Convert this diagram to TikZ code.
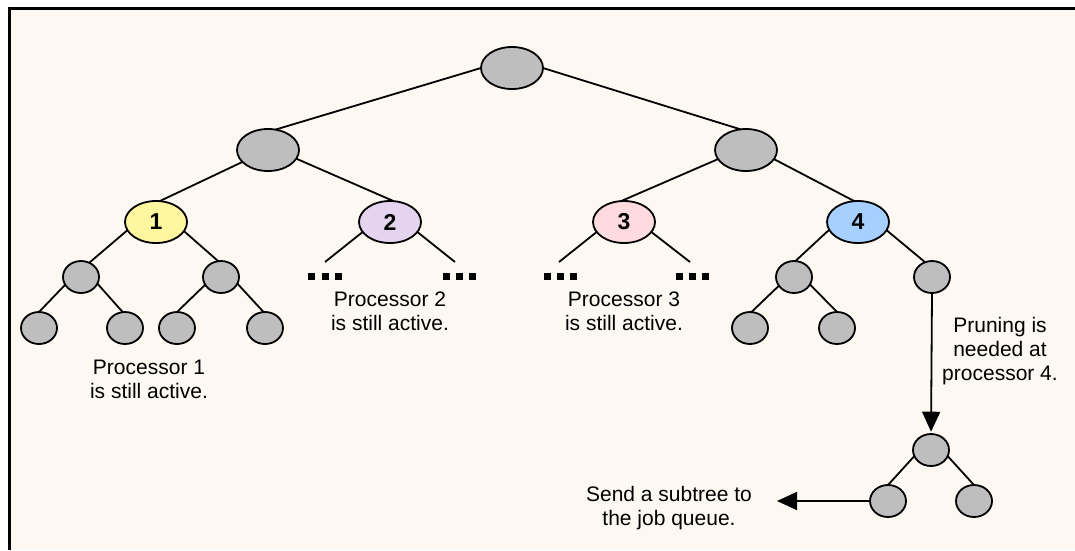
\documentclass[tikz,border=0pt]{standalone}
\usepackage{fontspec}
\setmainfont{Liberation Sans}
\usetikzlibrary{shapes.geometric,arrows.meta}
\definecolor{bgc}{RGB}{253,249,242}
\definecolor{grayfill}{RGB}{190,190,190}
\definecolor{pone}{RGB}{255,247,160}
\definecolor{ptwo}{RGB}{228,212,240}
\definecolor{pthree}{RGB}{255,218,222}
\definecolor{pfour}{RGB}{165,208,255}
\begin{document}
\begin{tikzpicture}[x=1pt,y=-1pt,
  big/.style={ellipse,draw=black,line width=1.8pt,minimum width=62pt,minimum height=42pt,inner sep=0pt,outer sep=0pt,font=\fontsize{23}{23}\selectfont\bfseries},
  small/.style={ellipse,draw=black,line width=1.8pt,fill=grayfill,minimum width=36pt,minimum height=32pt,inner sep=0pt,outer sep=0pt},
  edge/.style={line width=1.8pt},
  arr/.style={line width=1.8pt,-{Triangle[length=20pt,width=18pt]}},
  lbl/.style={align=center,font=\fontsize{21}{24}\selectfont,inner sep=0pt},
  sq/.style={fill=black,minimum size=7pt,inner sep=0pt,outer sep=0pt}
]
\useasboundingbox (0,0) rectangle (1075,550);
\fill[bgc] (9.5,8.5) rectangle (1075,550);
\draw[line width=3pt] (9.5,550) -- (9.5,8.5) -- (1075,8.5);

% upper tree
\node[big,fill=grayfill] (root) at (512,68) {};
\node[big,fill=grayfill] (L) at (268,150) {};
\node[big,fill=grayfill] (R) at (746,150) {};
\node[big,fill=pone] (p1) at (156,222) {1};
\node[big,fill=ptwo] (p2) at (390,222) {2};
\node[big,fill=pthree] (p3) at (624,222) {3};
\node[big,fill=pfour] (p4) at (858,222) {4};

\node[small] (a) at (81,277) {};
\node[small] (b) at (221,277) {};
\node[small] (c1) at (39,328) {};
\node[small] (c2) at (125,328) {};
\node[small] (c3) at (177,328) {};
\node[small] (c4) at (265,328) {};
\node[small] (d) at (794,277) {};
\node[small] (e) at (932,277) {};
\node[small] (f1) at (750,328) {};
\node[small] (f2) at (837,328) {};
\node[small] (g) at (931,450) {};
\node[small] (h1) at (888,501) {};
\node[small] (h2) at (974,501) {};

\coordinate (p2l) at (325,262);
\coordinate (p2r) at (455,262);
\coordinate (p3l) at (559,262);
\coordinate (p3r) at (690,262);
\coordinate (q) at (777,501);

\draw[edge] (root.180) -- (L.70);
\draw[edge] (root.0) -- (R.105);
\draw[edge] (L.205) -- (p1.80);
\draw[edge] (L.343) -- (p2.80);
\draw[edge] (R.198) -- (p3.98);
\draw[edge] (R.342) -- (p4.100);
\draw[edge] (p1.196) -- (a.60);
\draw[edge] (p1.342) -- (b.100);
\draw[edge] (a.206) -- (c1.90);
\draw[edge] (a.338) -- (c2.98);
\draw[edge] (b.206) -- (c3.90);
\draw[edge] (b.338) -- (c4.95);
\draw[edge] (p2.200) -- (p2l);
\draw[edge] (p2.340) -- (p2r);
\draw[edge] (p3.200) -- (p3l);
\draw[edge] (p3.340) -- (p3r);
\draw[edge] (p4.195) -- (d.85);
\draw[edge] (p4.344) -- (e.115);
\draw[edge] (d.210) -- (f1.85);
\draw[edge] (d.335) -- (f2.90);
\draw[edge] (g.200) -- (h1.90);
\draw[edge] (g.340) -- (h2.90);
\draw[arr,shorten >=2.3pt] (e.south) -- (g.north);
\draw[arr] (h1.west) -- (q);

% dots
\foreach \x/\n in {311.5/1,325/2,338.5/3,446/4,459/5,472.5/6,547/7,560/8,573.5/9,679/10,692/11,705.5/12}
  \node[sq] (s\n) at (\x,276.5) {};

% labels
\node[lbl] (t1) at (149,379) {Processor 1\\is still active.};
\node[lbl] (t2) at (390,311) {Processor 2\\is still active.};
\node[lbl] (t3) at (624,311) {Processor 3\\is still active.};
\node[lbl] (t4) at (1000,351) {Pruning is\\needed at\\processor 4.};
\node[lbl] (t5) at (669,508) {Send a subtree to\\the job queue.};
\end{tikzpicture}
\end{document}
